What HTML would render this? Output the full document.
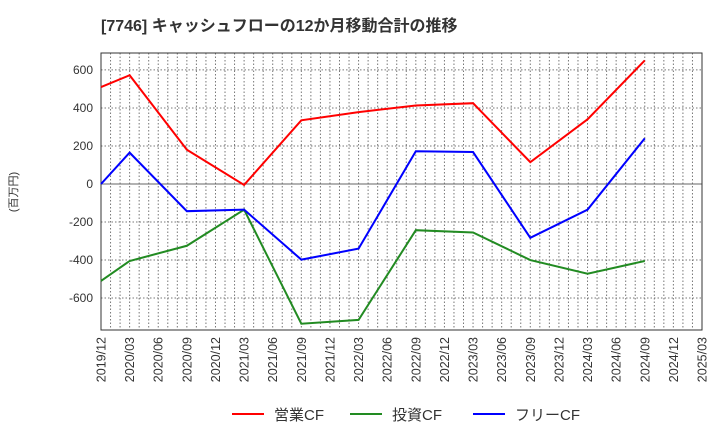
<!DOCTYPE html>
<html><head><meta charset="utf-8"><style>
body{margin:0;background:#fff;width:720px;height:440px;overflow:hidden;font-family:"Liberation Sans","Noto Sans CJK JP",sans-serif}
</style></head><body>
<svg id="c" width="720" height="440" xmlns="http://www.w3.org/2000/svg" font-family="Liberation Sans, Noto Sans CJK JP, sans-serif">
<text x="101" y="31" font-size="16" font-weight="bold" fill="#333">[7746]  キャッシュフローの12か月移動合計の推移</text>
<text transform="translate(17,192) rotate(-90)" text-anchor="middle" font-size="11" fill="#333">(百万円)</text>
</svg>
<script>
const xLabels=["2019/12","2020/03","2020/06","2020/09","2020/12","2021/03","2021/06","2021/09","2021/12","2022/03","2022/06","2022/09","2022/12","2023/03","2023/06","2023/09","2023/12","2024/03","2024/06","2024/09","2024/12","2025/03"];
const yTicks=[-600,-400,-200,0,200,400,600];
const pointIdx=[0,1,3,5,7,9,11,13,15,17,19];
const opCF=[510,572,180,-5,335,378,413,425,115,340,650];
const invCF=[-510,-405,-325,-135,-735,-715,-243,-255,-400,-472,-405];
const freeCF=[0,165,-143,-135,-398,-340,172,168,-283,-135,240];
const svg=document.getElementById('c');const NS='http://www.w3.org/2000/svg';
const L=101,R=702,T=53,B=330,yMax=689,yMin=-768;
const xs=q=>L+(R-L)*q/21;
const ys=v=>T+(yMax-v)/(yMax-yMin)*(B-T);
function mk(t,a){const e=document.createElementNS(NS,t);for(const k in a)e.setAttribute(k,a[k]);svg.appendChild(e);return e;}
for(let m=1;m<63;m++){const x=L+(R-L)*m/63;
const g=mk('line',{x1:x,x2:x,y1:T,y2:B,stroke:'#777','stroke-dasharray':'1.5,2','stroke-width':1});

}
yTicks.forEach(v=>{const y=ys(v);
const g=mk('line',{x1:L,x2:R,y1:y,y2:y,stroke:v===0?'#666':'#777','stroke-dasharray':v===0?'none':'1.5,2','stroke-width':1});


const t=mk('text',{x:L-8,y:y+4,'text-anchor':'end','font-size':12,fill:'#333'});t.textContent=v;

});
xLabels.forEach((s,i)=>{const x=xs(i);
const t=mk('text',{transform:`translate(${x+4.5},337) rotate(-90)`,'text-anchor':'end','font-size':12.5,fill:'#333'});t.textContent=s;

});
const fr=mk('rect',{x:L,y:T,width:R-L,height:B-T,fill:'none',stroke:'#333','stroke-width':1});


[[opCF,'#ff0000','operating-cf-line'],[invCF,'#228b22','investing-cf-line'],[freeCF,'#0000ff','free-cf-line']].forEach(([d,c,n])=>{
const p=mk('polyline',{points:d.map((v,i)=>xs(pointIdx[i])+','+ys(v)).join(' '),fill:'none',stroke:c,'stroke-width':2});

});
[['営業CF','#ff0000',232],['投資CF','#228b22',350],['フリーCF','#0000ff',473]].forEach(([s,c,x])=>{
const l=mk('line',{x1:x,x2:x+32,y1:414,y2:414,stroke:c,'stroke-width':2});


const t=mk('text',{x:x+42,y:420,'font-size':15,fill:'#333'});t.textContent=s;

});
</script>
</body></html>
